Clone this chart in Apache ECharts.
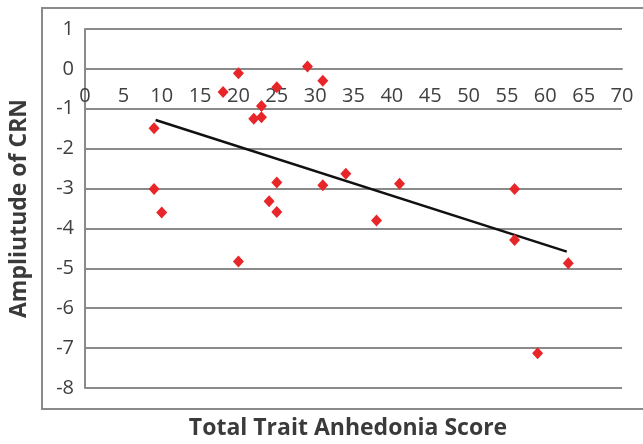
<!DOCTYPE html>
<html>
<head>
<meta charset="utf-8">
<script src="https://cdn.jsdelivr.net/npm/echarts@6/dist/echarts.min.js"></script>
<style>html,body{margin:0;padding:0;background:#fff}#c{width:643px;height:444px}</style>
</head>
<body>
<div id="c"></div>
<script>
var xScores = [9, 9, 10, 18, 20, 20, 22, 23, 23, 24, 25, 25, 25, 29, 31, 31, 34, 38, 41, 56, 56, 59, 63];
var crnAmps = [-1.49, -3.01, -3.6, -0.58, -0.11, -4.83, -1.25, -0.93, -1.21, -3.32, -0.46, -2.85, -3.59, 0.06, -0.30, -2.92, -2.63, -3.8, -2.88, -3.01, -4.29, -7.13, -4.87];
var trendX = [9.2, 62.8];
var trendY = [-1.28, -4.58];
var xTicks = [0, 5, 10, 15, 20, 25, 30, 35, 40, 45, 50, 55, 60, 65, 70];
var yTicks = [1, 0, -1, -2, -3, -4, -5, -6, -7, -8];

var points = xScores.map(function (x, i) { return [x, crnAmps[i]]; });
var trend = trendX.map(function (x, i) { return [x, trendY[i]]; });

var chart = echarts.init(document.getElementById('c'), null, { renderer: 'canvas' });
var font = "'Open Sans', 'Liberation Sans', sans-serif";
chart.setOption({
  animation: false,
  backgroundColor: '#fff',
  graphic: [{
    type: 'rect',
    shape: { x: 42, y: 8, width: 640, height: 401 },
    style: { fill: 'none', stroke: '#8a8a8a', lineWidth: 2 },
    z: -1
  }, {
    type: 'text',
    style: {
      text: 'Total Trait Anhedonia Score',
      x: 348, y: 428,
      textAlign: 'center', textVerticalAlign: 'middle',
      font: "bold 23px 'Open Sans', 'Liberation Sans', sans-serif",
      fill: '#3a3a3a'
    }
  }],
  grid: { left: 83, right: 21, top: 29, bottom: 56, containLabel: false },
  xAxis: {
    type: 'value',
    min: xTicks[0], max: xTicks[xTicks.length - 1], interval: 5,
    position: 'bottom',
    offset: -319,
    axisLine: { show: true, onZero: false, lineStyle: { color: '#8a8a8a', width: 2 } },
    axisTick: { show: false },
    splitLine: { show: false },
    axisLabel: { color: '#404040', fontSize: 20, fontFamily: font, margin: 17 }
  },
  yAxis: {
    type: 'value',
    min: yTicks[yTicks.length - 1], max: yTicks[0], interval: 1,
    name: 'Ampliutude of CRN',
    nameLocation: 'middle',
    nameGap: 54,
    nameTextStyle: { color: '#3a3a3a', fontSize: 23, fontWeight: 'bold', fontFamily: font },
    axisLine: { show: true, onZero: false, lineStyle: { color: '#8a8a8a', width: 2 } },
    axisTick: { show: false },
    splitLine: { show: true, lineStyle: { color: '#8a8a8a', width: 2 } },
    axisLabel: { color: '#404040', fontSize: 20, fontFamily: font, margin: 11 }
  },
  series: [{
    type: 'line',
    data: trend,
    symbol: 'none',
    lineStyle: { color: '#111', width: 2.5 },
    z: 2
  }, {
    type: 'scatter',
    data: points,
    symbol: 'diamond',
    symbolSize: [11, 12],
    itemStyle: { color: '#e8262a', opacity: 1 },
    z: 3
  }]
});
</script>
</body>
</html>
